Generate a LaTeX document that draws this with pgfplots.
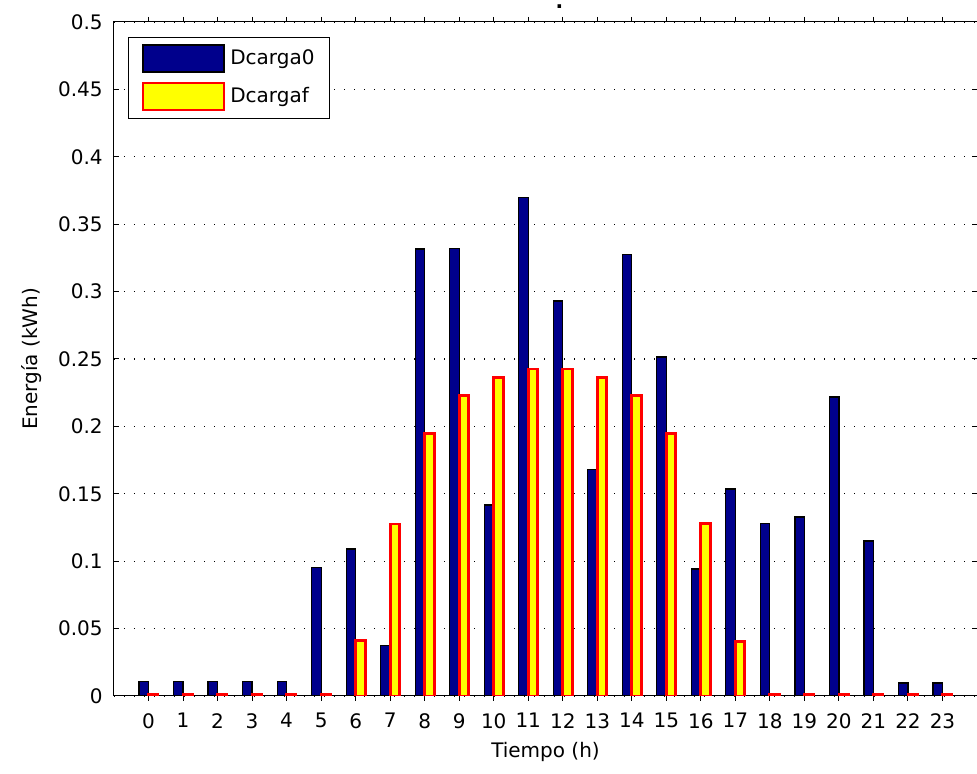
\documentclass[border=0pt]{standalone}
\usepackage{pgfplots}
\pgfplotsset{compat=1.18}
\usepackage{fontspec}
\setmainfont{DejaVu Sans}
\definecolor{mblue}{rgb}{0,0,0.55}
\definecolor{myellow}{rgb}{1,1,0}
\definecolor{mred}{rgb}{1,0,0}
\begin{document}
\fontsize{10}{12}\selectfont
\begin{tikzpicture}
\begin{axis}[
  at={(0,0)}, anchor=south west,
  scale only axis, width=431.5pt, height=337pt,
  xmin=-1, xmax=24, ymin=0, ymax=0.5,
  xtick={0,...,23},
  ytick={0,0.05,0.1,0.15,0.2,0.25,0.3,0.35,0.4,0.45,0.5},
  yticklabels={0,0.05,0.1,0.15,0.2,0.25,0.3,0.35,0.4,0.45,0.5},
  /pgf/number format/assume math mode=true,
  tick align=inside, tick pos=both,
  major tick length=2.5pt,
  tick style={black, line width=0.5pt},
  axis line style={black, line width=0.5pt},
  ymajorgrids,
  major grid style={black, line width=0.6pt, dash pattern=on 0.6pt off 4.4pt},
  ticklabel style={font=\fontsize{10}{12}\selectfont},
  yticklabel style={inner sep=0pt, xshift=-5.5pt},
  xticklabel style={inner sep=0pt, yshift=-6pt},
  xlabel={Tiempo (h)}, ylabel={Energía (kWh)},
  label style={font=\fontsize{10}{12}\selectfont},
  xlabel style={at={(axis description cs:0.5,-0.0682)}, anchor=north, inner sep=0pt},
  ylabel style={at={(axis description cs:-0.0834,0.5)}, anchor=south, inner sep=0pt},
  ybar, bar width=0.275,
  legend style={at={(7pt,329.5pt)}, anchor=north west, draw=black, line width=0.5pt,
    font=\fontsize{10}{12}\selectfont, inner xsep=6.5pt, inner ysep=3.5pt,
    nodes={inner sep=1pt}, row sep=4.5pt, column sep=1.5pt},
  legend cell align=left,
  legend image code/.code={\draw[#1] (0pt,-6.75pt) rectangle (40.5pt,6.75pt);},
]
\addplot[bar shift=-0.1375, fill=mblue, draw=black, line width=0.6pt] coordinates {
(0,0.011) (1,0.011) (2,0.011) (3,0.011) (4,0.011) (5,0.0955) (6,0.109) (7,0.0376)
(8,0.3316) (9,0.332) (10,0.1417) (11,0.370) (12,0.293) (13,0.168) (14,0.3277) (15,0.2515)
(16,0.0942) (17,0.1536) (18,0.128) (19,0.1328) (20,0.2218) (21,0.115) (22,0.0096) (23,0.0096)};
\addlegendentry{Dcarga0\hspace{5pt}}
\addplot[bar shift=0.1375, fill=myellow, draw=mred, line width=1.4pt] coordinates {
(0,0.001) (1,0.001) (2,0.001) (3,0.001) (4,0.001) (5,0.001) (6,0.041) (7,0.1276)
(8,0.195) (9,0.2228) (10,0.2364) (11,0.2426) (12,0.2426) (13,0.236) (14,0.2228) (15,0.195)
(16,0.128) (17,0.0403) (18,0.001) (19,0.001) (20,0.001) (21,0.001) (22,0.001) (23,0.001)};
\addlegendentry{Dcargaf}
\end{axis}
\node[anchor=base, inner sep=0pt, font=\fontsize{10}{12}\selectfont\bfseries] at (222.7pt,343.5pt) {.};
\pgfresetboundingbox
\useasboundingbox (-57pt,-39pt) rectangle (431.5pt,348pt);
\end{tikzpicture}
\end{document}
